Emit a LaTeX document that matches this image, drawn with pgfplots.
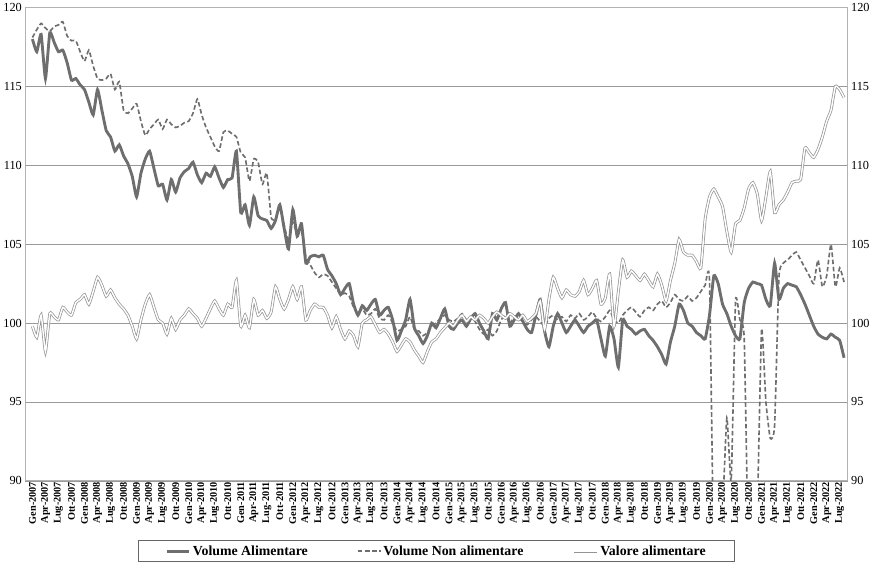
\documentclass[border=0pt]{standalone}
\usepackage{pgfplots}
\pgfplotsset{compat=1.18}
\usepackage{fontspec}
\setmainfont{Liberation Serif}
\definecolor{lg}{RGB}{110,110,110}
\begin{document}
\begin{tikzpicture}[x=1bp,y=1bp]
\begin{axis}[
  at={(37bp,89bp)}, anchor=south west,
  width=799bp, height=460bp, scale only axis,
  /pgf/number format/assume math mode=true,
  xmin=-1.6, xmax=187.8, ymin=90, ymax=120,
  ytick={90,95,...,120}, ymajorgrids, grid style={gray!80, line width=0.6pt},
  axis line style={gray!60, line width=0.8pt},
  ytick style={draw=none}, xtick style={draw=none},
  yticklabel style={font=\fontsize{12}{14}\selectfont},
  xtick={0,3,...,186},
  xticklabels={Gen-2007,Apr-2007,Lug-2007,Ott-2007,Gen-2008,Apr-2008,Lug-2008,Ott-2008,Gen-2009,Apr-2009,Lug-2009,Ott-2009,Gen-2010,Apr-2010,Lug-2010,Ott-2010,Gen-2011,Apr-2011,Lug-2011,Ott-2011,Gen-2012,Apr-2012,Lug-2012,Ott-2012,Gen-2013,Apr-2013,Lug-2013,Ott-2013,Gen-2014,Apr-2014,Lug-2014,Ott-2014,Gen-2015,Apr-2015,Lug-2015,Ott-2015,Gen-2016,Apr-2016,Lug-2016,Ott-2016,Gen-2017,Apr-2017,Lug-2017,Ott-2017,Gen-2018,Apr-2018,Lug-2018,Ott-2018,Gen-2019,Apr-2019,Lug-2019,Ott-2019,Gen-2020,Apr-2020,Lug-2020,Ott-2020,Gen-2021,Apr-2021,Lug-2021,Ott-2021,Gen-2022,Apr-2022,Lug-2022},
  xticklabel style={rotate=90, anchor=east, font=\bfseries\fontsize{10}{10}\selectfont, inner sep=1pt},
  legend style={at={(0.5,-0.125)}, anchor=north, draw=gray!80!black, line width=0.8pt, legend columns=3,
    font=\bfseries\fontsize{13.5}{16}\selectfont, inner xsep=26pt, inner ysep=3pt},
  legend cell align=left,
  /tikz/every even column/.append style={column sep=46pt},
  legend image post style={xscale=1.3},
]
\addplot[lg, line width=2.8pt, smooth, tension=0.3] coordinates {
(0,118)(1,117.2)(2,118.3)(3,115.5)(4,118.4)(5,117.8)(6,117.2)(7,117.3)(8,116.5)(9,115.4)(10,115.5)(11,115.1)(12,114.8)(13,114)(14,113.2)(15,114.8)(16,113.5)(17,112.2)(18,111.8)(19,110.9)(20,111.3)(21,110.6)(22,110.1)(23,109.3)(24,108)(25,109.5)(26,110.4)(27,110.9)(28,109.8)(29,108.7)(30,108.8)(31,107.8)(32,109.1)(33,108.3)(34,109.2)(35,109.6)(36,109.8)(37,110.2)(38,109.4)(39,108.9)(40,109.5)(41,109.3)(42,109.9)(43,109.2)(44,108.6)(45,109.1)(46,109.2)(47,110.9)(48,107)(49,107.5)(50,106.2)(51,108)(52,106.8)(53,106.6)(54,106.5)(55,106)(56,106.5)(57,107.5)(58,106)(59,104.7)(60,107.2)(61,105.5)(62,106.3)(63,103.8)(64,104.2)(65,104.3)(66,104.2)(67,104.3)(68,103.4)(69,103)(70,102.5)(71,101.8)(72,102.2)(73,102.5)(74,101.2)(75,100.5)(76,101.1)(77,100.8)(78,101.2)(79,101.5)(80,100.5)(81,100.8)(82,101)(83,100.2)(84,98.9)(85,99.5)(86,100.2)(87,101.5)(88,99.7)(89,99.2)(90,98.7)(91,99.2)(92,100)(93,99.7)(94,100.3)(95,100.9)(96,99.8)(97,99.6)(98,100)(99,100.2)(100,99.8)(101,100.3)(102,100.6)(103,100)(104,99.5)(105,99)(106,100.6)(107,100.2)(108,100.9)(109,101.3)(110,99.8)(111,100.2)(112,100.6)(113,100.1)(114,99.6)(115,99.4)(116,100.5)(117,101.5)(118,99.5)(119,98.5)(120,99.8)(121,100.6)(122,100)(123,99.4)(124,99.8)(125,100.2)(126,99.8)(127,99.4)(128,99.8)(129,100)(130,100.2)(131,99)(132,97.9)(133,99.8)(134,99)(135,97.2)(136,100.2)(137,99.8)(138,99.6)(139,99.3)(140,99.5)(141,99.6)(142,99.2)(143,98.9)(144,98.5)(145,98)(146,97.4)(147,98.8)(148,99.8)(149,101.2)(150,100.8)(151,100)(152,99.8)(153,99.4)(154,99.2)(155,99)(156,100.5)(157,103)(158,102.5)(159,101.2)(160,100.6)(161,99.8)(162,99.2)(163,99)(164,101.3)(165,102.2)(166,102.6)(167,102.5)(168,102.4)(169,101.5)(170,101.1)(171,103.8)(172,101.5)(173,102.2)(174,102.5)(175,102.4)(176,102.3)(177,101.8)(178,101.2)(179,100.5)(180,99.8)(181,99.3)(182,99.1)(183,99)(184,99.3)(185,99.1)(186,98.9)(187,97.8)};
\addlegendentry{Volume Alimentare}
\addplot[lg, line width=1.6pt, dash pattern=on 4.5pt off 2.5pt, smooth, tension=0.3] coordinates {
(0,118.1)(1,118.6)(2,119)(3,118.7)(4,118.5)(5,118.8)(6,118.9)(7,119.1)(8,118.2)(9,117.9)(10,117.9)(11,117.2)(12,116.6)(13,117.3)(14,116.3)(15,115.5)(16,115.4)(17,115.5)(18,115.8)(19,114.8)(20,115.3)(21,113.5)(22,113.3)(23,113.6)(24,113.9)(25,112.8)(26,111.9)(27,112.3)(28,112.6)(29,112.9)(30,112.3)(31,112.9)(32,112.6)(33,112.4)(34,112.5)(35,112.7)(36,112.8)(37,113.3)(38,114.2)(39,113.2)(40,112.4)(41,111.8)(42,111.2)(43,110.9)(44,112.1)(45,112.2)(46,112)(47,111.8)(48,110.8)(49,110.5)(50,109)(51,110.4)(52,110.2)(53,108.8)(54,109.5)(55,106.7)(56,106.6)(57,107.4)(58,106.2)(59,105.2)(60,106.4)(61,105.6)(62,105.8)(63,104.2)(64,103.7)(65,103.2)(66,102.9)(67,103.1)(68,103)(69,102.6)(70,102.2)(71,101.8)(72,101.9)(73,101.7)(74,101)(75,100.6)(76,100.9)(77,100.5)(78,100.6)(79,100.9)(80,100.3)(81,100.2)(82,100.5)(83,100)(84,99.5)(85,99.6)(86,99.8)(87,100.4)(88,99.6)(89,99.5)(90,99.2)(91,99.4)(92,99.8)(93,100)(94,100.3)(95,100.5)(96,100.2)(97,100.1)(98,100.3)(99,100.6)(100,100.2)(101,100.4)(102,100.1)(103,99.6)(104,99.3)(105,99.6)(106,99.2)(107,99.5)(108,100.2)(109,100.5)(110,100)(111,100.4)(112,100.3)(113,100.1)(114,99.9)(115,100.2)(116,100.4)(117,100.1)(118,99.8)(119,100.3)(120,100.5)(121,100.2)(122,100.4)(123,100.1)(124,100.5)(125,100.3)(126,100.6)(127,100.2)(128,100.4)(129,100.7)(130,100.3)(131,100.1)(132,100.4)(133,100.8)(134,100.2)(135,100)(136,100.5)(137,100.8)(138,101)(139,100.7)(140,100.4)(141,100.8)(142,101)(143,100.8)(144,101.2)(145,101.4)(146,101)(147,101.3)(148,101.8)(149,101.5)(150,101.4)(151,101.7)(152,101.4)(153,101.6)(154,102)(155,102.4)(156,102.7)(157,85)(158,85)(159,88)(160,94)(161,90)(162,101.4)(163,100.2)(164,99)(165,85)(166,85)(167,88)(168,99.6)(169,95)(170,92.7)(171,93.5)(172,102.9)(173,103.8)(174,104)(175,104.3)(176,104.5)(177,104)(178,103.5)(179,103)(180,102.5)(181,104)(182,102.3)(183,103)(184,105)(185,102.3)(186,103.5)(187,102.6)};
\addlegendentry{Volume Non alimentare}
\addplot[draw=gray!85, double=white, double distance=1.4pt, line width=0.7pt, smooth, tension=0.3] coordinates {
(0,99.8)(1,99.1)(2,100.5)(3,98.2)(4,100.6)(5,100.4)(6,100.2)(7,101)(8,100.7)(9,100.5)(10,101.3)(11,101.5)(12,101.8)(13,101.2)(14,102)(15,102.9)(16,102.4)(17,101.7)(18,102.1)(19,101.6)(20,101.2)(21,100.9)(22,100.5)(23,99.8)(24,99)(25,100.2)(26,101.2)(27,101.8)(28,101)(29,100.2)(30,100)(31,99.3)(32,100.3)(33,99.6)(34,100.2)(35,100.5)(36,100.9)(37,100.6)(38,100.3)(39,99.8)(40,100.3)(41,100.9)(42,101.4)(43,100.9)(44,100.5)(45,101.2)(46,101)(47,102.7)(48,99.8)(49,100.5)(50,99.7)(51,101.5)(52,100.5)(53,100.8)(54,100.3)(55,100.7)(56,102.3)(57,101.5)(58,100.9)(59,101.5)(60,102.3)(61,101.5)(62,102.3)(63,100.2)(64,100.8)(65,101.2)(66,101)(67,101)(68,100.5)(69,99.7)(70,100.4)(71,99.6)(72,99)(73,99.5)(74,99.2)(75,98.5)(76,100)(77,100.2)(78,100.4)(79,99.9)(80,99.4)(81,99.6)(82,99.3)(83,98.8)(84,98.2)(85,98.6)(86,99)(87,98.8)(88,98.3)(89,97.9)(90,97.5)(91,98.2)(92,98.8)(93,99)(94,99.4)(95,99.7)(96,100)(97,99.8)(98,100.2)(99,100.5)(100,100.1)(101,100.4)(102,100.2)(103,100.5)(104,100.3)(105,100)(106,100.4)(107,100.7)(108,100.5)(109,100.3)(110,100.6)(111,100.4)(112,100.2)(113,100.5)(114,100.1)(115,100.3)(116,100.6)(117,101.4)(118,99.6)(119,101.5)(120,102.9)(121,102.2)(122,101.6)(123,102.1)(124,101.8)(125,101.7)(126,102)(127,102.7)(128,101.8)(129,102.2)(130,102.7)(131,101.2)(132,101.6)(133,103.1)(134,99.8)(135,102)(136,104)(137,102.9)(138,103.3)(139,103)(140,102.7)(141,103.1)(142,102.7)(143,102.3)(144,103.1)(145,102.4)(146,101.4)(147,102.7)(148,103.8)(149,105.3)(150,104.5)(151,104.3)(152,104.3)(153,103.9)(154,103.5)(155,106.6)(156,108)(157,108.5)(158,108)(159,107.4)(160,105.8)(161,104.5)(162,106.3)(163,106.5)(164,107.3)(165,108.5)(166,108.9)(167,108.2)(168,106.5)(169,108)(170,109.6)(171,107)(172,107.5)(173,107.8)(174,108.3)(175,108.9)(176,109)(177,109.1)(178,111.1)(179,110.8)(180,110.5)(181,111)(182,111.8)(183,112.8)(184,113.5)(185,115)(186,114.8)(187,114.3)};
\addlegendentry{Valore alimentare}
\end{axis}
\begin{axis}[
  at={(37bp,89bp)}, anchor=south west,
  width=799bp, height=460bp, scale only axis,
  /pgf/number format/assume math mode=true,
  xmin=-1.6, xmax=187.8, ymin=90, ymax=120,
  axis y line*=right, axis x line=none,
  ytick={90,95,...,120}, ytick style={draw=none},
  axis line style={gray!60, line width=0.8pt},
  yticklabel style={font=\fontsize{12}{14}\selectfont},
]
\addplot[draw=none] coordinates {(0,100)};
\end{axis}
\end{tikzpicture}
\end{document}
